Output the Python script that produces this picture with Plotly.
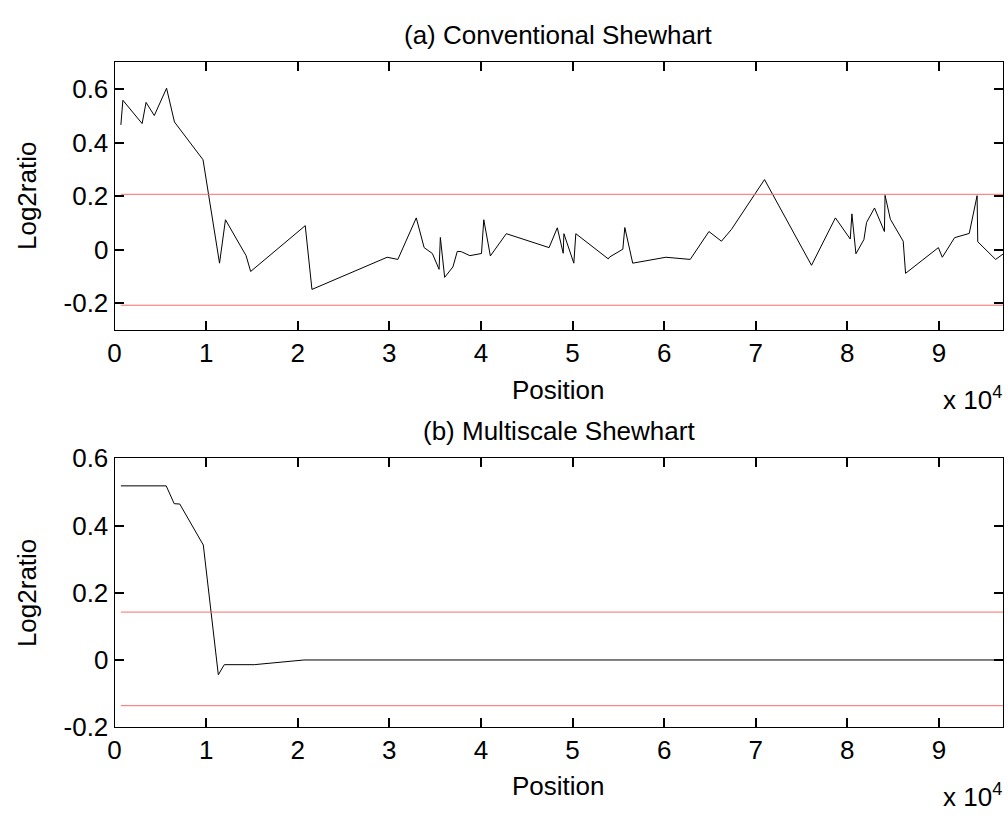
import plotly.graph_objects as go

# ---- data (positions in bp, values log2 ratio) ----
pos_a = [690, 760, 910, 3010, 3440, 4340, 5680, 6540, 9660, 11460, 12110, 14360, 14860,
         20820, 21550, 29760, 30930, 32940, 33800, 34700, 35430, 35570, 36040, 36940,
         37420, 37850, 38790, 40060, 40310, 41030, 42770, 47440, 48340, 48980, 49060,
         50140, 50360, 53900, 54050, 55490, 55710, 56570, 60190, 62850, 64890, 66260,
         67350, 70960, 76090, 78700, 80320, 80500, 80940, 81810, 82100, 82970, 84050,
         84120, 84700, 86100, 86360, 89940, 90370, 91710, 93310, 94170, 94240, 96190, 97000]
val_a = [0.466, 0.510, 0.558, 0.471, 0.550, 0.501, 0.603, 0.477, 0.336, -0.050, 0.112, -0.022, -0.081,
         0.090, -0.148, -0.028, -0.036, 0.119, 0.008, -0.014, -0.073, 0.046, -0.103, -0.064,
         -0.006, -0.007, -0.022, -0.014, 0.112, -0.023, 0.060, 0.008, 0.082, -0.013, 0.060,
         -0.050, 0.060, -0.034, -0.027, 0.002, 0.083, -0.050, -0.028, -0.036, 0.068, 0.032,
         0.076, 0.262, -0.058, 0.119, 0.040, 0.134, -0.015, 0.038, 0.102, 0.156, 0.068,
         0.203, 0.114, 0.032, -0.088, 0.008, -0.028, 0.045, 0.061, 0.202, 0.030, -0.036, -0.016]
limits_a = [0.207, -0.207]

pos_b = [690, 5640, 6510, 7120, 9690, 11330, 11980, 15250, 20680, 97000]
val_b = [0.518, 0.518, 0.465, 0.464, 0.342, -0.044, -0.014, -0.014, 0.0, 0.0]
limits_b = [0.1425, -0.136]

x_tickvals = [0, 10000, 20000, 30000, 40000, 50000, 60000, 70000, 80000, 90000]
x_ticktext = ['0', '1', '2', '3', '4', '5', '6', '7', '8', '9']
ya_tickvals = [-0.2, 0, 0.2, 0.4, 0.6]
ya_ticktext = ['-0.2', '0', '0.2', '0.4', '0.6']
yb_tickvals = [-0.2, 0, 0.2, 0.4, 0.6]
yb_ticktext = ['-0.2', '0', '0.2', '0.4', '0.6']
titles = ['(a) Conventional Shewhart', '(b) Multiscale Shewhart']

W, H = 1008, 827
FONT = 'Liberation Sans, Arial, Helvetica, sans-serif'
FS = 26

def px(x):
    return x / W

def py(y):
    return 1 - y / H

fig = go.Figure()

LIMIT_LINE = dict(color='#ff6a6a', width=1)

# top panel
fig.add_trace(go.Scatter(x=pos_a, y=val_a, mode='lines', line=dict(color='black', width=1),
                         xaxis='x', yaxis='y', showlegend=False))
for lim in limits_a:
    fig.add_trace(go.Scatter(x=[pos_a[0], pos_a[-1]], y=[lim, lim], mode='lines',
                             line=LIMIT_LINE, xaxis='x', yaxis='y', showlegend=False))
# bottom panel
fig.add_trace(go.Scatter(x=pos_b, y=val_b, mode='lines', line=dict(color='black', width=1),
                         xaxis='x2', yaxis='y2', showlegend=False))
for lim in limits_b:
    fig.add_trace(go.Scatter(x=[pos_b[0], pos_b[-1]], y=[lim, lim], mode='lines',
                             line=LIMIT_LINE, xaxis='x2', yaxis='y2', showlegend=False))

XL, XR = 108.3, 1003
xdom = [px(XL), px(XR)]
common_ax = dict(showline=True, linecolor='black', linewidth=1, mirror='allticks',
                 ticks='inside', ticklen=9, tickcolor='black', tickwidth=2,
                 showgrid=False, zeroline=False, layer='above traces',
                 tickfont=dict(family=FONT, size=FS, color='black'))

fig.update_layout(
    width=W, height=H, margin=dict(l=0, r=0, t=0, b=0),
    paper_bgcolor='white', plot_bgcolor='white',
    xaxis=dict(domain=xdom, range=[0, 97000], tickmode='array', tickvals=x_tickvals,
               ticktext=x_ticktext, anchor='y', **common_ax),
    yaxis=dict(domain=[py(327), py(49)], range=[-0.3, 0.7], tickmode='array', tickvals=ya_tickvals,
               ticktext=ya_ticktext, anchor='x', **common_ax),
    xaxis2=dict(domain=xdom, range=[0, 97000], tickmode='array', tickvals=x_tickvals,
                ticktext=x_ticktext, anchor='y2', **common_ax),
    yaxis2=dict(domain=[py(739), py(460)], range=[-0.2, 0.6], tickmode='array', tickvals=yb_tickvals,
                ticktext=yb_ticktext, anchor='x2', **common_ax),
)

def ann(text, x, y, xanchor='center', yanchor='middle', angle=0):
    fig.add_annotation(text=text, x=px(x), y=py(y), xref='paper', yref='paper',
                       xanchor=xanchor, yanchor=yanchor, showarrow=False, textangle=angle,
                       font=dict(family=FONT, size=FS, color='black'))

cx = (XL + XR) / 2
ann(titles[0], cx, 21)
ann(titles[1], cx, 432)
ann('Position', cx, 389)
ann('Position', cx, 800)
ann('x 10<sup>4</sup>', 1004, 398, xanchor='right')
ann('x 10<sup>4</sup>', 1004, 810, xanchor='right')
ann('Log2ratio', 20, 188, angle=-90)
ann('Log2ratio', 20, 600, angle=-90)

fig.write_html('out.html')
